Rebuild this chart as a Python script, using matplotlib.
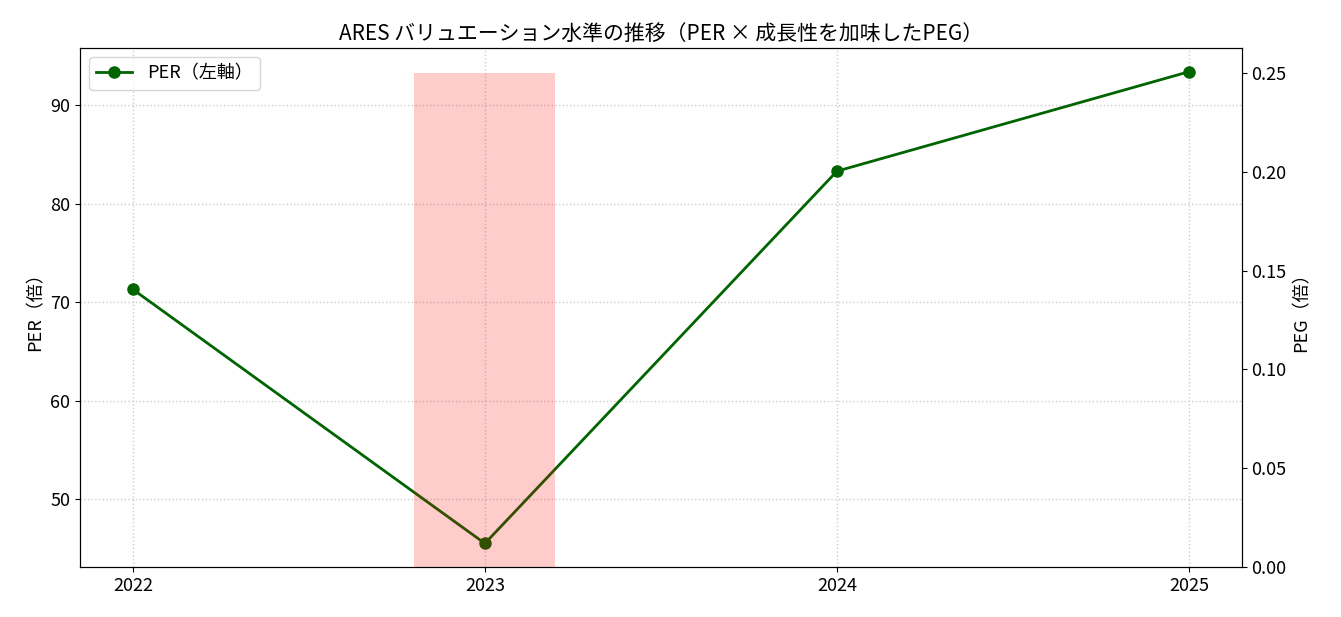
import matplotlib
matplotlib.use("Agg")
import matplotlib.pyplot as plt

plt.rcParams['font.family'] = ['Noto Sans CJK JP', 'DejaVu Sans']

# === Data ===
years = [2022, 2023, 2024, 2025]
per = [71.3, 45.5, 83.3, 93.4]
peg_years = [2023]
peg = [0.25]

fig, ax1 = plt.subplots(figsize=(13.41, 6.17), dpi=100)
fig.subplots_adjust(left=0.0597, right=0.926, top=0.922, bottom=0.081)

# === PER (left axis) ===
ax1.plot(years, per, color="darkgreen", marker="o", markersize=8, linewidth=2, label="PER（左軸）")
ax1.set_ylabel("PER（倍）", fontsize=13)
ax1.set_xticks(years)
ax1.set_xticklabels([str(y) for y in years])
ax1.tick_params(labelsize=13)
ax1.grid(True, linestyle=":", color="#cccccc", linewidth=1)
ax1.legend(loc="upper left", fontsize=13)

# === PEG (right axis) ===
ax2 = ax1.twinx()
ax2.bar(peg_years, peg, width=0.4, color="red", alpha=0.2, label="PEG（右軸）")
ax2.set_ylabel("PEG（倍）", fontsize=13)
ax2.tick_params(labelsize=13)
ax2.yaxis.set_major_formatter(matplotlib.ticker.FormatStrFormatter("%.2f"))

ax1.set_title("ARES バリュエーション水準の推移（PER × 成長性を加味したPEG）", fontsize=15)

plt.savefig("out.png")
